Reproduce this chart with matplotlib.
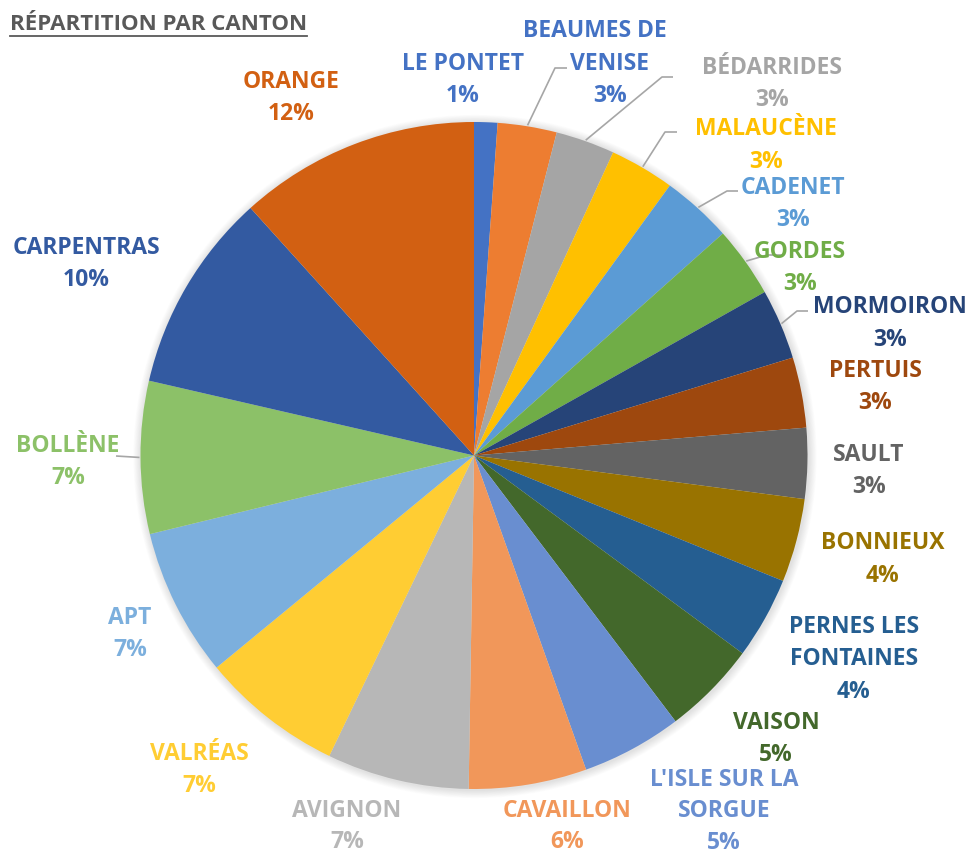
import numpy as np
import matplotlib.pyplot as plt
from matplotlib.patches import Circle

# data (share of each canton, clockwise from 12 o'clock)
cantons = ["LE PONTET", "BEAUMES DE VENISE", "BÉDARRIDES", "MALAUCÈNE", "CADENET",
           "GORDES", "MORMOIRON", "PERTUIS", "SAULT", "BONNIEUX",
           "PERNES LES FONTAINES", "VAISON", "L'ISLE SUR LA SORGUE", "CAVAILLON",
           "AVIGNON", "VALRÉAS", "APT", "BOLLÈNE", "CARPENTRAS", "ORANGE"]
shares = [1.13, 2.86, 2.86, 3.14, 3.42, 3.44, 3.41, 3.41, 3.42, 4.05,
          3.97, 4.57, 4.87, 5.71, 6.89, 6.89, 7.18, 7.39, 9.71, 11.69]
colors = ["#4472C4", "#ED7D31", "#A5A5A5", "#FFC000", "#5B9BD5", "#70AD47",
          "#264478", "#9E480E", "#636363", "#997300", "#255E91", "#43682B",
          "#698ED0", "#F1975A", "#B7B7B7", "#FFCD33", "#7CAFDD", "#8CC168",
          "#335AA1", "#D26012"]
# label text colours (same as the slices, except BEAUMES DE VENISE which is blue)
label_colors = list(colors)
label_colors[1] = "#4472C4"

# layout (pixels, y from top)
W, H = 969, 854
cx, cy, r = 474, 456.5, 333.5
wrap = {"BEAUMES DE VENISE": "BEAUMES DE\nVENISE",
        "PERNES LES FONTAINES": "PERNES LES\nFONTAINES",
        "L'ISLE SUR LA SORGUE": "L'ISLE SUR LA\nSORGUE"}
label_pos = [(463, 61), (610, 28), (772, 65), (766, 126), (793, 185), (800, 249),
             (890, 304), (875, 368), (869, 452), (883, 540), (854, 624), (776, 720),
             (724, 777), (567, 808), (347, 808), (199, 751), (130, 615), (68, 443),
             (86, 245), (291, 79)]
first_line_x = {1: 595}
# leader lines: slice index -> (elbow x, elbow y, end x)
leaders = {1: (555, 69, 567), 2: (662, 78, 673), 3: (665, 133, 677),
           4: (727, 192, 738), 5: (767, 256, 782), 6: (797, 312, 808),
           17: (116, 457, 116)}

def py(y):
    return H - y

plt.rcParams['font.family'] = ['Open Sans', 'DejaVu Sans']
fig = plt.figure(figsize=(W / 100, H / 100), dpi=100)
ax = fig.add_axes([0, 0, 1, 1])

# soft shadow around the pie
for i in range(10):
    ax.add_patch(Circle((cx + 1, py(cy) - 1), r + 1 + i * 0.8, color="black",
                        alpha=0.012, lw=0, zorder=0))

wedges, _ = ax.pie(shares, colors=colors, startangle=90, counterclock=False,
                   center=(cx, py(cy)), radius=r, frame=True,
                   wedgeprops=dict(linewidth=0))
ax.set_xlim(0, W)
ax.set_ylim(0, H)
ax.axis("off")

total = sum(shares)
for i, (name, s) in enumerate(zip(cantons, shares)):
    lines = wrap.get(name, name).split("\n") + [f"{round(s / total * 100)}%"]
    x, y = label_pos[i]
    # bottom labels sit tight against the lower edge
    line_h = 31.5 if y > 770 else 32.5
    for k, t in enumerate(lines):
        tx = first_line_x.get(i, x) if k == 0 else x
        ax.text(tx, py(y + k * line_h), t, color=label_colors[i], fontsize=16.5,
                fontweight="bold", ha="center", va="center_baseline")

for i, (ex, ey, endx) in leaders.items():
    w = wedges[i]
    mid = np.deg2rad((w.theta1 + w.theta2) / 2)
    sx = w.center[0] + (r + 1) * np.cos(mid)
    sy = w.center[1] + (r + 1) * np.sin(mid)
    ax.plot([sx, ex, endx], [sy, py(ey), py(ey)], color="#A6A6A6", lw=1.2,
            solid_capstyle="butt")

# title with underline
title = ax.text(10, py(22), "RÉPARTITION PAR CANTON", color="#595959",
                fontsize=16, fontweight="bold", ha="left", va="center_baseline")
fig.canvas.draw()
bb = title.get_window_extent().transformed(ax.transData.inverted())
ax.plot([bb.x0, bb.x1], [py(37), py(37)], color="#595959", lw=1.3)

fig.savefig("out.png", dpi=100)
